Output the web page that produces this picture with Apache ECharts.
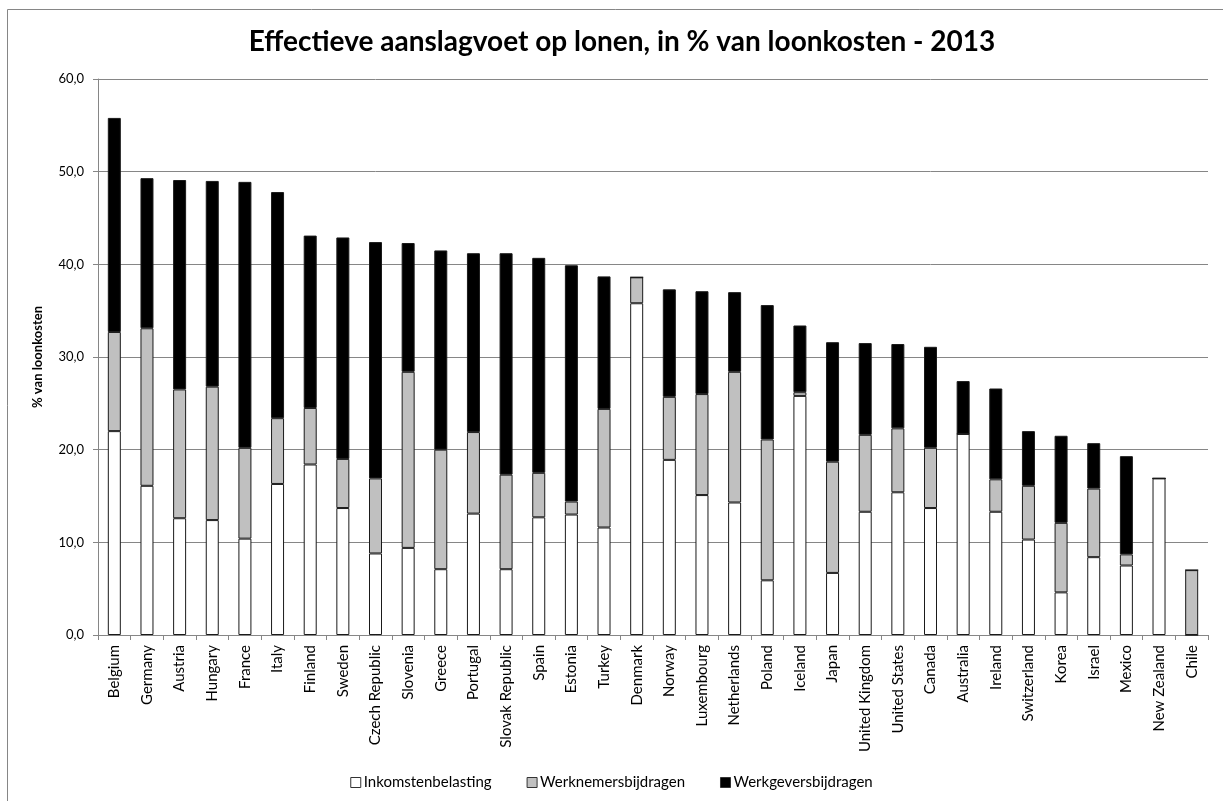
<!DOCTYPE html>
<html>
<head>
<meta charset="utf-8">
<script src="https://cdn.jsdelivr.net/npm/echarts@6/dist/echarts.min.js"></script>
<style>
  html, body { margin: 0; padding: 0; background: #fff; }
  #chart { width: 1223px; height: 801px; }
</style>
</head>
<body>
<div id="chart"></div>
<script>
// Landen, gesorteerd op totale aanslagvoet
const countries = [
  'Belgium', 'Germany', 'Austria', 'Hungary', 'France', 'Italy', 'Finland', 'Sweden',
  'Czech Republic', 'Slovenia', 'Greece', 'Portugal', 'Slovak Republic', 'Spain', 'Estonia',
  'Turkey', 'Denmark', 'Norway', 'Luxembourg', 'Netherlands', 'Poland', 'Iceland', 'Japan',
  'United Kingdom', 'United States', 'Canada', 'Australia', 'Ireland', 'Switzerland', 'Korea',
  'Israel', 'Mexico', 'New Zealand', 'Chile'
];

// Inkomstenbelasting (% van loonkosten)
const inkomstenbelasting = [
  22.0, 16.1, 12.6, 12.4, 10.4, 16.3, 18.4, 13.7,
  8.8, 9.4, 7.1, 13.1, 7.1, 12.7, 13.0,
  11.6, 35.8, 18.9, 15.1, 14.3, 5.9, 25.8, 6.7,
  13.3, 15.4, 13.7, 21.7, 13.3, 10.3, 4.6,
  8.4, 7.5, 16.9, 0.0
];

// Werknemersbijdragen (% van loonkosten)
const werknemersbijdragen = [
  10.7, 17.0, 13.9, 14.4, 9.8, 7.1, 6.1, 5.3,
  8.1, 19.0, 12.9, 8.8, 10.2, 4.8, 1.4,
  12.8, 2.8, 6.8, 10.9, 14.1, 15.2, 0.4, 12.0,
  8.3, 6.9, 6.5, 0.0, 3.5, 5.8, 7.5,
  7.4, 1.2, 0.0, 7.0
];

// Werkgeversbijdragen (% van loonkosten)
const werkgeversbijdragen = [
  23.1, 16.2, 22.6, 22.2, 28.7, 24.4, 18.6, 23.9,
  25.5, 13.9, 21.5, 19.3, 23.9, 23.2, 25.5,
  14.3, 0.0, 11.6, 11.1, 8.6, 14.5, 7.2, 12.9,
  9.9, 9.1, 10.9, 5.7, 9.8, 5.9, 9.4,
  4.9, 10.6, 0.0, 0.0
];

// Y-as: 0 t/m 60 in stappen van 10
const yTicks = [0, 10, 20, 30, 40, 50, 60];

const FONT = 'Lato, "Open Sans", sans-serif';
const GRID_GRAY = '#868686';
const EDGE = '#1a1a1a';

const seriesDefs = [
  { name: 'Inkomstenbelasting', data: inkomstenbelasting, color: '#ffffff' },
  { name: 'Werknemersbijdragen', data: werknemersbijdragen, color: '#c0c0c0' },
  { name: 'Werkgeversbijdragen', data: werkgeversbijdragen, color: '#000000' }
];

const chart = echarts.init(document.getElementById('chart'), null, { renderer: 'canvas' });

chart.setOption({
  backgroundColor: '#ffffff',
  animation: false,
  title: {
    text: 'Effectieve aanslagvoet op lonen, in % van loonkosten - 2013',
    left: 617,
    textAlign: 'center',
    top: 23,
    textStyle: { fontFamily: FONT, fontSize: 28, fontWeight: 'bold', color: '#000' }
  },
  legend: {
    data: seriesDefs.map(s => ({
      name: s.name,
      itemStyle: { color: s.color, borderColor: '#333', borderWidth: 1 }
    })),
    left: 'center',
    top: 770,
    icon: 'rect',
    itemWidth: 10,
    itemHeight: 10,
    itemGap: 35,
    textStyle: { fontFamily: FONT, fontSize: 15, color: '#000', padding: [0, 0, 0, -2] }
  },
  grid: { left: 98, right: 15, top: 79, bottom: 166, containLabel: false },
  xAxis: {
    type: 'category',
    data: countries,
    axisLine: { lineStyle: { color: GRID_GRAY, width: 1 } },
    axisTick: { show: true, alignWithLabel: false, length: 5, lineStyle: { color: GRID_GRAY } },
    axisLabel: {
      interval: 0,
      rotate: 90,
      margin: 10,
      fontFamily: FONT,
      fontSize: 15,
      color: '#000'
    }
  },
  yAxis: {
    type: 'value',
    min: yTicks[0],
    max: yTicks[yTicks.length - 1],
    interval: yTicks[1] - yTicks[0],
    name: '% van loonkosten',
    nameLocation: 'middle',
    nameRotate: 90,
    nameGap: 54,
    nameTextStyle: { fontFamily: FONT, fontSize: 13, fontWeight: 'bold', color: '#000' },
    axisLine: { show: true, lineStyle: { color: GRID_GRAY, width: 1 } },
    axisTick: { show: true, length: 5, lineStyle: { color: GRID_GRAY } },
    axisLabel: {
      margin: 14,
      fontFamily: FONT,
      fontSize: 13,
      color: '#000',
      formatter: v => v.toFixed(1).replace('.', ',')
    },
    splitLine: { show: true, lineStyle: { color: GRID_GRAY, width: 1 } }
  },
  series: seriesDefs.map(s => ({
    name: s.name,
    type: 'bar',
    stack: 'totaal',
    barWidth: 13,
    data: s.data,
    itemStyle: { color: s.color, borderColor: EDGE, borderWidth: 1 },
    emphasis: { disabled: true }
  })),
  graphic: [
    {
      type: 'rect',
      silent: true,
      shape: { x: 7.5, y: 9.5, width: 1300, height: 900 },
      style: { fill: 'none', stroke: GRID_GRAY, lineWidth: 1 }
    }
  ]
});
</script>
</body>
</html>
